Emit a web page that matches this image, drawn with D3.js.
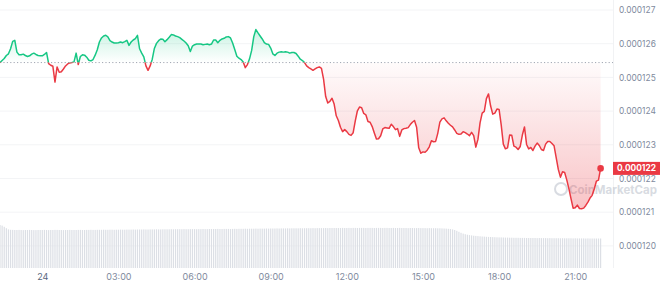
<!DOCTYPE html>
<html>
<head>
<meta charset="utf-8">
<script src="https://cdn.jsdelivr.net/npm/d3@7"></script>
<style>
  body { margin: 0; background: #fff; }
  svg { display: block; font-family: Inter, "Noto Sans", sans-serif; }
</style>
</head>
<body>
<svg id="chart" width="660" height="285"></svg>
<script>

// price in units of 1e-6 USD, one point every 5 minutes
const prices = [
  125.44,125.50,125.56,125.65,125.70,125.85,126.07,126.10,125.75,125.67,
  125.67,125.69,125.65,125.62,125.64,125.69,125.72,125.68,125.65,125.64,
  125.64,125.68,125.74,125.41,125.36,125.33,124.86,125.31,125.15,125.17,
  125.25,125.34,125.40,125.43,125.44,125.46,125.72,125.38,125.62,125.67,
  125.66,125.60,125.51,125.49,125.53,125.66,125.82,126.05,126.17,126.23,
  126.25,126.20,126.09,126.05,126.02,126.02,126.03,126.05,126.03,126.06,
  126.10,125.95,126.05,126.11,126.15,126.25,125.85,125.72,125.61,125.34,
  125.21,125.34,125.54,125.86,126.01,126.09,126.14,126.13,126.06,126.12,
  126.19,126.27,126.26,126.23,126.21,126.18,126.13,126.08,126.02,125.94,
  125.77,125.93,125.97,125.99,125.99,125.99,125.97,125.98,125.99,125.97,
  125.99,126.11,126.11,126.03,126.10,126.14,126.16,126.20,126.21,126.17,
  126.02,125.83,125.63,125.57,125.53,125.46,125.29,125.38,125.55,125.80,
  126.21,126.42,126.32,126.23,126.14,126.03,125.99,125.98,125.87,125.70,
  125.65,125.72,125.75,125.76,125.75,125.76,125.75,125.72,125.74,125.74,
  125.71,125.63,125.54,125.50,125.44,125.34,125.29,125.25,125.21,125.25,
  125.29,125.31,125.27,124.95,124.43,124.24,124.29,124.38,124.21,123.86,
  123.72,123.52,123.39,123.45,123.39,123.31,123.28,123.36,123.71,124.01,
  124.12,124.10,123.93,123.89,123.69,123.67,123.54,123.35,123.17,123.18,
  123.27,123.47,123.51,123.50,123.49,123.61,123.54,123.45,123.48,123.25,
  123.44,123.48,123.49,123.51,123.60,123.67,123.72,123.52,122.91,122.75,
  122.79,122.78,122.84,122.94,123.12,123.09,123.10,123.34,123.67,123.77,
  123.80,123.71,123.64,123.58,123.53,123.44,123.34,123.31,123.32,123.39,
  123.36,123.32,123.27,123.37,123.27,122.93,123.16,123.65,123.94,123.99,
  124.37,124.51,124.15,123.91,123.94,124.06,124.05,123.59,123.02,122.88,
  122.91,123.29,123.28,122.96,122.93,122.86,122.95,123.29,123.53,123.01,
  122.88,122.92,122.83,122.96,123.05,122.98,122.86,122.83,123.02,123.10,
  123.10,123.04,122.97,122.62,122.27,122.04,122.20,122.18,121.96,121.70,
  121.40,121.12,121.13,121.21,121.11,121.10,121.12,121.20,121.30,121.42,
  121.50,121.69,121.92,121.95,122.30
];

// 24h rolling volume, same 5 minute steps (arbitrary units)
const volumes = [
  4.30,4.24,4.12,3.98,3.86,3.82,3.81,3.80,3.80,3.81,3.80,3.79,3.80,3.80,3.81,3.80,3.79,3.79,3.80,3.80,
  3.80,3.81,3.80,3.79,3.80,3.80,3.81,3.81,3.80,3.80,3.79,3.80,3.80,3.81,3.80,3.80,3.80,3.81,3.81,3.80,
  3.80,3.81,3.81,3.82,3.81,3.81,3.82,3.82,3.82,3.83,3.82,3.82,3.83,3.83,3.82,3.83,3.83,3.84,3.83,3.83,
  3.84,3.84,3.84,3.85,3.84,3.85,3.85,3.85,3.86,3.85,3.85,3.86,3.86,3.86,3.87,3.86,3.86,3.87,3.87,3.87,
  3.87,3.88,3.87,3.88,3.88,3.88,3.88,3.89,3.88,3.88,3.89,3.89,3.89,3.88,3.89,3.89,3.90,3.89,3.89,3.90,
  3.90,3.90,3.90,3.91,3.90,3.90,3.91,3.91,3.91,3.90,3.91,3.92,3.91,3.92,3.92,3.92,3.93,3.92,3.93,3.93,
  3.93,3.94,3.93,3.94,3.94,3.94,3.95,3.94,3.95,3.95,3.95,3.96,3.95,3.96,3.96,3.96,3.97,3.96,3.97,3.97,
  3.97,3.97,3.98,3.97,3.98,3.98,3.98,3.98,3.99,3.98,3.99,3.99,3.99,3.99,4.00,3.99,4.00,4.00,4.00,4.00,
  4.00,4.00,4.01,4.00,4.00,4.01,4.00,4.01,4.01,4.00,4.01,4.01,4.01,4.00,4.01,4.01,4.01,4.00,4.01,4.01,
  4.01,4.00,4.01,4.01,4.00,4.00,4.01,4.00,4.00,4.01,4.00,4.00,4.00,3.99,4.00,4.00,3.99,3.99,4.00,3.99,
  3.99,3.99,3.98,3.99,3.98,3.98,3.98,3.97,3.97,3.96,3.95,3.94,3.92,3.90,3.86,3.80,3.72,3.62,3.52,3.44,
  3.38,3.33,3.29,3.26,3.23,3.21,3.19,3.17,3.15,3.14,3.12,3.11,3.10,3.09,3.08,3.07,3.06,3.06,3.05,3.04,
  3.04,3.03,3.03,3.02,3.02,3.02,3.01,3.01,3.01,3.00,3.00,3.00,3.00,3.00,2.99,3.00,2.99,2.99,2.99,2.98,
  2.99,2.98,2.98,2.98,2.98,2.97,2.98,2.97,2.97,2.97,2.97,2.96,2.97,2.96,2.96,2.96,2.96,2.95,2.96,2.95,
  2.95,2.95,2.95,2.95,2.95
];

const yTicks = [120, 121, 122, 123, 124, 125, 126, 127];

const start = new Date(2024, 3, 23, 22, 20);
const stepMin = 5;

const green = "#16c784";
const red = "#ea3943";
const gray = "#808a9d";

const times = prices.map((d, i) => d3.timeMinute.offset(start, i * stepMin));
const base = prices[0];
const last = prices[prices.length - 1];
const fmt = v => d3.format(".6f")(v * 1e-6);

const svg = d3.select("#chart");

const x = d3.scaleTime()
  .domain([times[0], times[times.length - 1]])
  .range([0, 600.6]);

const y = d3.scaleLinear()
  .domain([120, 127])
  .range([245.9, 10]);

const yVol = d3.scaleLinear()
  .domain([0, d3.max(volumes)])
  .range([268, 225]);

// defs: clips + gradients
const defs = svg.append("defs");

defs.append("clipPath").attr("id", "above")
  .append("rect").attr("x", 0).attr("y", 0).attr("width", 660).attr("height", y(base));
defs.append("clipPath").attr("id", "below")
  .append("rect").attr("x", 0).attr("y", y(base)).attr("width", 660).attr("height", 285 - y(base));

const gUp = defs.append("linearGradient").attr("id", "gUp")
  .attr("gradientUnits", "userSpaceOnUse")
  .attr("x1", 0).attr("x2", 0).attr("y1", y(126.45)).attr("y2", y(base));
gUp.append("stop").attr("offset", 0).attr("stop-color", green).attr("stop-opacity", 0.24);
gUp.append("stop").attr("offset", 1).attr("stop-color", green).attr("stop-opacity", 0.0);

const gDown = defs.append("linearGradient").attr("id", "gDown")
  .attr("gradientUnits", "userSpaceOnUse")
  .attr("x1", 0).attr("x2", 0).attr("y1", y(base)).attr("y2", y(121.1));
gDown.append("stop").attr("offset", 0).attr("stop-color", red).attr("stop-opacity", 0.02);
gDown.append("stop").attr("offset", 1).attr("stop-color", red).attr("stop-opacity", 0.3);

// grid
svg.append("g")
  .selectAll("line")
  .data(yTicks)
  .join("line")
  .attr("x1", 0).attr("x2", 613)
  .attr("y1", d => y(d)).attr("y2", d => y(d))
  .attr("stroke", "#f3f4f6");

svg.append("line")
  .attr("x1", 613.5).attr("x2", 613.5)
  .attr("y1", 0).attr("y2", 268)
  .attr("stroke", "#f1f2f4");

// volume bars
svg.append("g")
  .selectAll("rect")
  .data(volumes)
  .join("rect")
  .attr("x", (d, i) => x(times[i]) - 0.6)
  .attr("width", 1.2)
  .attr("y", d => yVol(d))
  .attr("height", d => 268 - yVol(d))
  .attr("fill", "#dcdfe5");

// watermark
const wm = svg.append("g").attr("opacity", 0.55);
wm.append("circle")
  .attr("cx", 561).attr("cy", 189).attr("r", 6)
  .attr("fill", "none").attr("stroke", "#b9bfca").attr("stroke-width", 2);
wm.append("text")
  .attr("x", 569).attr("y", 193.5)
  .attr("font-size", 11.5).attr("font-weight", 700)
  .attr("fill", "#b9bfca")
  .text("CoinMarketCap");

// areas
const area = d3.area()
  .x((d, i) => x(times[i]))
  .y0(y(base))
  .y1(d => y(d));

svg.append("path").datum(prices)
  .attr("clip-path", "url(#above)")
  .attr("d", area)
  .attr("fill", "url(#gUp)");

svg.append("path").datum(prices)
  .attr("clip-path", "url(#below)")
  .attr("d", area)
  .attr("fill", "url(#gDown)");

// baseline
svg.append("line")
  .attr("x1", 0).attr("x2", 613)
  .attr("y1", y(base)).attr("y2", y(base))
  .attr("stroke", "#a1a7b3")
  .attr("stroke-width", 1)
  .attr("stroke-dasharray", "1.2,2.2");

// lines
const line = d3.line()
  .x((d, i) => x(times[i]))
  .y(d => y(d));

svg.append("path").datum(prices)
  .attr("clip-path", "url(#above)")
  .attr("d", line)
  .attr("fill", "none")
  .attr("stroke", green)
  .attr("stroke-width", 1.5)
  .attr("stroke-linejoin", "round");

svg.append("path").datum(prices)
  .attr("clip-path", "url(#below)")
  .attr("d", line)
  .attr("fill", "none")
  .attr("stroke", red)
  .attr("stroke-width", 1.5)
  .attr("stroke-linejoin", "round");

svg.append("circle")
  .attr("cx", x(times[times.length - 1]))
  .attr("cy", y(last))
  .attr("r", 3.3)
  .attr("fill", red);

// axes
const yAxis = svg.append("g")
  .attr("transform", "translate(619,0)")
  .call(d3.axisRight(y).tickValues(yTicks).tickSize(0).tickPadding(0).tickFormat(fmt));
yAxis.select(".domain").remove();
yAxis.selectAll("text")
  .attr("fill", gray)
  .attr("font-size", 8.4)
  .attr("font-family", "Inter, sans-serif");

const xAxis = svg.append("g")
  .attr("transform", "translate(0,271)")
  .call(d3.axisBottom(x)
    .ticks(d3.timeHour.every(3))
    .tickSize(0)
    .tickPadding(3)
    .tickFormat(d => d.getHours() === 0 ? d3.timeFormat("%d")(d) : d3.timeFormat("%H:%M")(d)));
xAxis.select(".domain").remove();
xAxis.selectAll("text")
  .attr("fill", d => d.getHours() === 0 ? "#58667e" : gray)
  .attr("font-size", 9)
  .attr("font-family", "Inter, sans-serif");

// last price tag
const tag = svg.append("g").attr("transform", "translate(613," + y(last) + ")");
tag.append("rect")
  .attr("x", 0).attr("y", -6.5)
  .attr("width", 47).attr("height", 13)
  .attr("fill", red);
tag.append("text")
  .attr("x", 23.5).attr("y", 0)
  .attr("dy", "0.35em")
  .attr("text-anchor", "middle")
  .attr("font-size", 8.4)
  .attr("font-weight", 700)
  .attr("fill", "#fff")
  .text(fmt(last));

</script>
</body>
</html>
